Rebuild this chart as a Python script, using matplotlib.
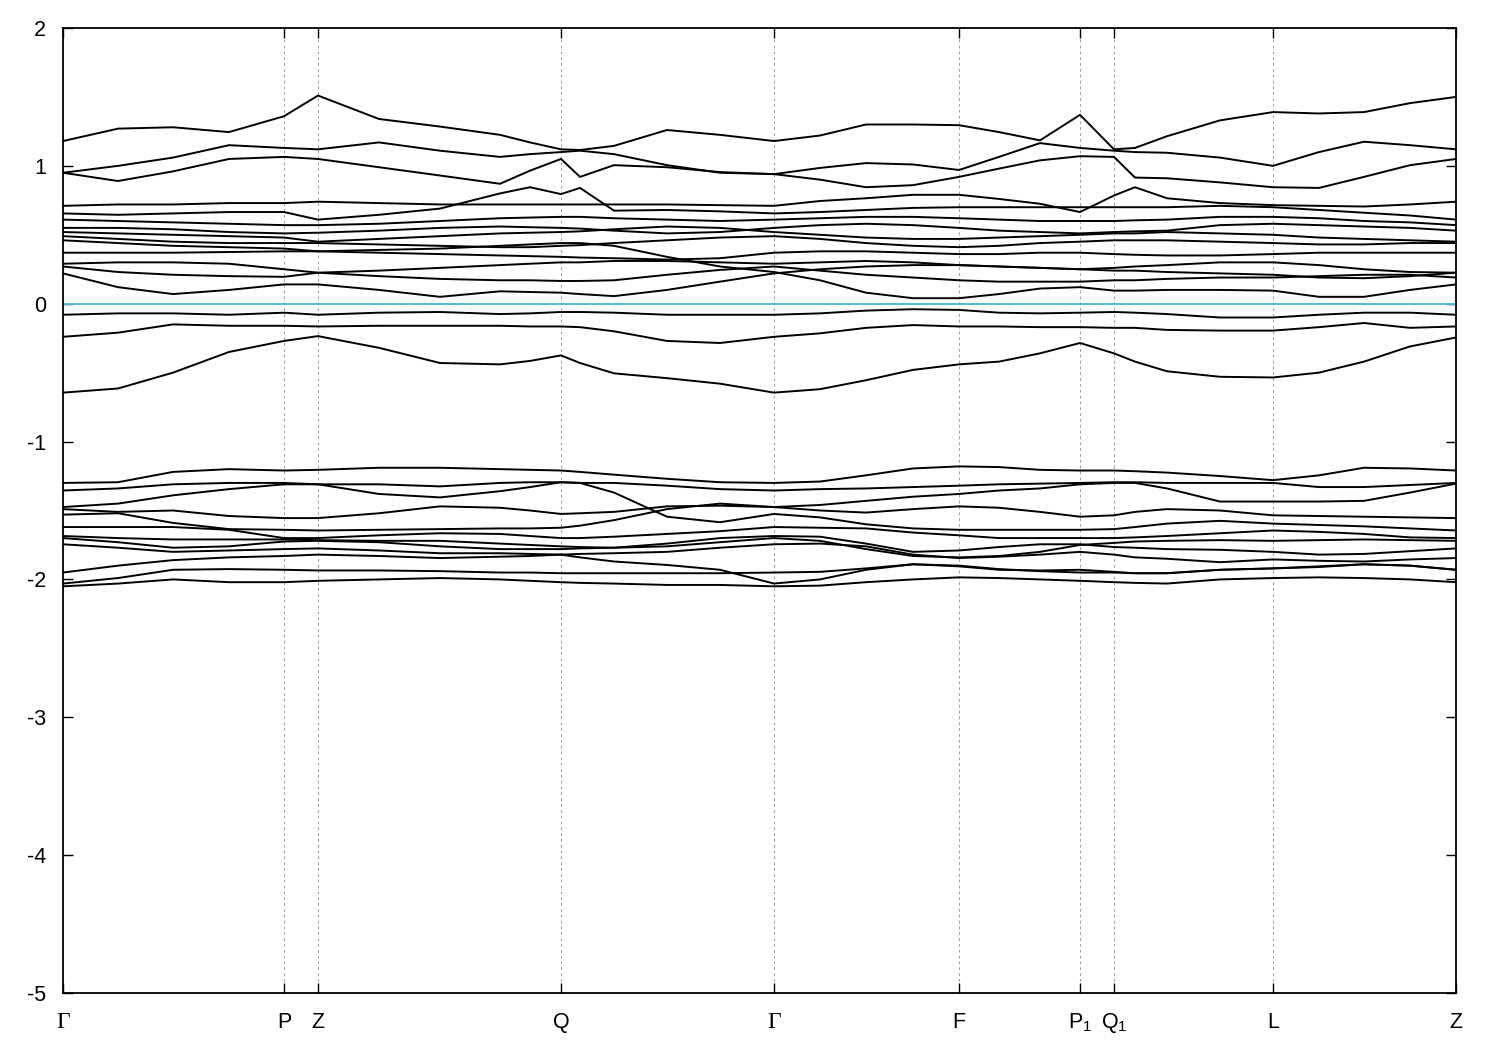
import matplotlib
matplotlib.use("Agg")
import matplotlib.pyplot as plt
from matplotlib.transforms import blended_transform_factory

plt.rcParams['font.family'] = ['Liberation Sans', 'DejaVu Sans']
plt.rcParams['axes.unicode_minus'] = False

# high-symmetry points along the path (k-path distance, arbitrary units)
kpt_pos = [0.0, 0.221, 0.255, 0.498, 0.711, 0.896, 1.017, 1.051, 1.210, 1.393]
kpt_labels = ["Γ", "P", "Z", "Q", "Γ", "F", r"$\mathregular{P_1}$", r"$\mathregular{Q_1}$", "L", "Z"]

# k samples where the band energies were read
k = [0.0, 0.055, 0.110, 0.166, 0.221, 0.255, 0.316, 0.377, 0.437, 0.467,
     0.498, 0.517, 0.551, 0.604, 0.657, 0.711, 0.757, 0.803, 0.850, 0.896,
     0.936, 0.977, 1.017, 1.051, 1.072, 1.104, 1.157, 1.210, 1.256, 1.301,
     1.347, 1.393]

# upper bands (eV)
b1 = [1.18, 1.27, 1.28, 1.245, 1.36, 1.51, 1.34, 1.285, 1.225, 1.17, 1.12, 1.115, 1.145, 1.26, 1.225, 1.18,
      1.22, 1.30, 1.30, 1.295, 1.245, 1.185, 1.37, 1.12, 1.13, 1.215, 1.33, 1.39, 1.38, 1.39, 1.455, 1.50]
b2 = [0.95, 1.00, 1.06, 1.15, 1.13, 1.12, 1.17, 1.11, 1.065, 1.085, 1.10, 1.11, 1.085, 1.005, 0.95, 0.94,
      0.985, 1.02, 1.01, 0.97, 1.065, 1.165, 1.13, 1.11, 1.10, 1.095, 1.06, 1.00, 1.10, 1.175, 1.15, 1.12]
b3 = [0.95, 0.89, 0.96, 1.05, 1.065, 1.05, 0.99, 0.93, 0.87, 0.965, 1.05, 0.92, 1.005, 0.99, 0.955, 0.94,
      0.90, 0.845, 0.86, 0.92, 0.98, 1.04, 1.07, 1.065, 0.915, 0.91, 0.88, 0.845, 0.84, 0.92, 1.005, 1.05]

m1 = [0.71, 0.72, 0.72, 0.73, 0.73, 0.74, 0.73, 0.72, 0.72, 0.72, 0.72, 0.72, 0.72, 0.72, 0.715, 0.71,
      0.745, 0.765, 0.79, 0.79, 0.76, 0.725, 0.665, 0.785, 0.845, 0.765, 0.73, 0.715, 0.71, 0.705, 0.72, 0.74]
m2 = [0.655, 0.645, 0.655, 0.665, 0.665, 0.61, 0.645, 0.69, 0.80, 0.845, 0.795, 0.84, 0.675, 0.68, 0.67, 0.655,
      0.665, 0.68, 0.695, 0.70, 0.70, 0.70, 0.70, 0.70, 0.70, 0.70, 0.71, 0.70, 0.68, 0.66, 0.64, 0.61]
m3 = [0.61, 0.60, 0.59, 0.58, 0.57, 0.57, 0.58, 0.60, 0.62, 0.625, 0.63, 0.63, 0.62, 0.61, 0.60, 0.61,
      0.62, 0.63, 0.63, 0.62, 0.61, 0.60, 0.60, 0.60, 0.605, 0.61, 0.63, 0.63, 0.62, 0.60, 0.59, 0.57]
m4 = [0.55, 0.55, 0.54, 0.52, 0.51, 0.515, 0.53, 0.55, 0.56, 0.555, 0.55, 0.545, 0.53, 0.51, 0.52, 0.55,
      0.57, 0.58, 0.57, 0.55, 0.53, 0.52, 0.51, 0.52, 0.525, 0.53, 0.57, 0.58, 0.57, 0.56, 0.55, 0.53]
m5 = [0.52, 0.51, 0.50, 0.49, 0.48, 0.45, 0.47, 0.49, 0.51, 0.515, 0.52, 0.525, 0.54, 0.56, 0.55, 0.52,
      0.50, 0.48, 0.47, 0.47, 0.48, 0.49, 0.50, 0.51, 0.51, 0.52, 0.51, 0.50, 0.48, 0.47, 0.46, 0.45]
m6 = [0.49, 0.47, 0.45, 0.44, 0.44, 0.44, 0.43, 0.42, 0.41, 0.41, 0.42, 0.425, 0.44, 0.46, 0.48, 0.49,
      0.47, 0.44, 0.42, 0.41, 0.42, 0.44, 0.45, 0.46, 0.46, 0.46, 0.45, 0.44, 0.43, 0.43, 0.44, 0.44]
m7 = [0.46, 0.44, 0.42, 0.41, 0.40, 0.38, 0.39, 0.40, 0.42, 0.43, 0.44, 0.44, 0.42, 0.34, 0.27, 0.23,
      0.17, 0.08, 0.04, 0.04, 0.07, 0.11, 0.12, 0.095, 0.095, 0.10, 0.10, 0.095, 0.05, 0.05, 0.10, 0.14]
m8 = [0.37, 0.37, 0.37, 0.375, 0.38, 0.38, 0.37, 0.36, 0.35, 0.345, 0.34, 0.335, 0.33, 0.32, 0.33, 0.37,
      0.38, 0.38, 0.37, 0.36, 0.36, 0.37, 0.37, 0.36, 0.355, 0.35, 0.35, 0.36, 0.37, 0.37, 0.37, 0.37]
m9 = [0.29, 0.30, 0.30, 0.29, 0.25, 0.225, 0.24, 0.26, 0.28, 0.29, 0.30, 0.30, 0.31, 0.31, 0.30, 0.29,
      0.30, 0.31, 0.30, 0.28, 0.27, 0.26, 0.25, 0.26, 0.27, 0.28, 0.30, 0.30, 0.28, 0.25, 0.23, 0.225]
m10 = [0.27, 0.23, 0.21, 0.20, 0.195, 0.225, 0.20, 0.18, 0.17, 0.17, 0.165, 0.165, 0.17, 0.21, 0.245, 0.27,
       0.24, 0.21, 0.19, 0.17, 0.16, 0.16, 0.16, 0.17, 0.17, 0.18, 0.19, 0.19, 0.20, 0.21, 0.21, 0.19]
m11 = [0.22, 0.12, 0.07, 0.10, 0.14, 0.14, 0.10, 0.05, 0.09, 0.085, 0.08, 0.07, 0.055, 0.10, 0.16, 0.22,
       0.25, 0.27, 0.28, 0.28, 0.27, 0.26, 0.25, 0.24, 0.24, 0.23, 0.22, 0.21, 0.19, 0.185, 0.20, 0.225]

n1 = [-0.08, -0.07, -0.07, -0.08, -0.065, -0.08, -0.065, -0.06, -0.075, -0.07, -0.06, -0.06, -0.065, -0.08, -0.08, -0.08,
      -0.07, -0.05, -0.04, -0.045, -0.065, -0.07, -0.065, -0.06, -0.065, -0.075, -0.10, -0.10, -0.08, -0.065, -0.065, -0.08]
n2 = [-0.24, -0.21, -0.15, -0.16, -0.16, -0.165, -0.16, -0.16, -0.16, -0.165, -0.165, -0.17, -0.20, -0.27, -0.285, -0.24,
      -0.215, -0.175, -0.155, -0.165, -0.165, -0.17, -0.17, -0.175, -0.175, -0.19, -0.195, -0.195, -0.17, -0.14, -0.175, -0.165]
n3 = [-0.645, -0.615, -0.50, -0.35, -0.27, -0.235, -0.32, -0.43, -0.44, -0.415, -0.375, -0.43, -0.505, -0.54, -0.58, -0.645,
      -0.62, -0.555, -0.48, -0.44, -0.42, -0.36, -0.285, -0.36, -0.42, -0.49, -0.53, -0.535, -0.50, -0.42, -0.31, -0.245]

# lower bands
p1 = [-1.30, -1.295, -1.22, -1.20, -1.21, -1.205, -1.19, -1.19, -1.20, -1.205, -1.21, -1.22, -1.24, -1.27, -1.295, -1.30,
      -1.29, -1.245, -1.195, -1.18, -1.185, -1.205, -1.21, -1.21, -1.215, -1.225, -1.25, -1.28, -1.245, -1.19, -1.195, -1.21]
p2 = [-1.355, -1.34, -1.31, -1.30, -1.30, -1.31, -1.31, -1.325, -1.30, -1.295, -1.295, -1.30, -1.30, -1.32, -1.345, -1.355,
      -1.345, -1.34, -1.33, -1.32, -1.31, -1.305, -1.30, -1.295, -1.295, -1.30, -1.30, -1.30, -1.33, -1.33, -1.315, -1.30]
p3 = [-1.475, -1.45, -1.39, -1.345, -1.31, -1.31, -1.38, -1.405, -1.36, -1.33, -1.295, -1.30, -1.37, -1.545, -1.585, -1.525,
      -1.55, -1.60, -1.63, -1.64, -1.64, -1.64, -1.64, -1.635, -1.62, -1.595, -1.575, -1.595, -1.605, -1.615, -1.63, -1.645]
p4 = [-1.49, -1.51, -1.50, -1.54, -1.555, -1.555, -1.52, -1.47, -1.48, -1.50, -1.525, -1.52, -1.51, -1.47, -1.465, -1.475,
      -1.46, -1.43, -1.40, -1.38, -1.355, -1.34, -1.31, -1.30, -1.30, -1.34, -1.435, -1.435, -1.435, -1.43, -1.37, -1.305]
p5 = [-1.53, -1.52, -1.59, -1.635, -1.64, -1.645, -1.64, -1.635, -1.63, -1.63, -1.625, -1.61, -1.57, -1.49, -1.45, -1.475,
      -1.50, -1.515, -1.49, -1.47, -1.48, -1.51, -1.545, -1.535, -1.51, -1.49, -1.50, -1.535, -1.54, -1.545, -1.55, -1.555]
p6 = [-1.62, -1.62, -1.62, -1.64, -1.70, -1.70, -1.68, -1.665, -1.67, -1.685, -1.70, -1.70, -1.69, -1.67, -1.65, -1.62,
      -1.625, -1.63, -1.66, -1.68, -1.70, -1.70, -1.70, -1.70, -1.695, -1.685, -1.665, -1.645, -1.655, -1.67, -1.695, -1.70]
p7 = [-1.685, -1.70, -1.71, -1.71, -1.71, -1.715, -1.72, -1.72, -1.74, -1.75, -1.76, -1.765, -1.77, -1.74, -1.70, -1.685,
      -1.69, -1.74, -1.80, -1.79, -1.765, -1.745, -1.745, -1.765, -1.77, -1.78, -1.785, -1.80, -1.82, -1.815, -1.795, -1.775]
p8 = [-1.70, -1.73, -1.77, -1.76, -1.725, -1.72, -1.73, -1.76, -1.78, -1.78, -1.78, -1.775, -1.77, -1.76, -1.73, -1.70,
      -1.72, -1.78, -1.83, -1.84, -1.83, -1.80, -1.75, -1.735, -1.725, -1.72, -1.715, -1.72, -1.715, -1.71, -1.715, -1.72]
p9 = [-1.745, -1.77, -1.80, -1.79, -1.78, -1.775, -1.79, -1.81, -1.81, -1.815, -1.82, -1.815, -1.81, -1.80, -1.77, -1.745,
      -1.74, -1.76, -1.82, -1.845, -1.835, -1.82, -1.80, -1.82, -1.84, -1.85, -1.875, -1.855, -1.865, -1.87, -1.855, -1.845]
p10 = [-1.95, -1.90, -1.86, -1.84, -1.83, -1.82, -1.83, -1.845, -1.835, -1.83, -1.82, -1.84, -1.87, -1.895, -1.93, -2.03,
       -2.00, -1.93, -1.89, -1.90, -1.925, -1.94, -1.95, -1.95, -1.955, -1.955, -1.93, -1.92, -1.91, -1.89, -1.90, -1.93]
p11 = [-2.03, -1.99, -1.93, -1.925, -1.93, -1.935, -1.935, -1.94, -1.95, -1.95, -1.955, -1.955, -1.955, -1.955, -1.955, -1.95,
       -1.945, -1.92, -1.89, -1.905, -1.93, -1.935, -1.93, -1.945, -1.955, -1.955, -1.93, -1.92, -1.905, -1.89, -1.90, -1.93]
p12 = [-2.05, -2.03, -2.00, -2.02, -2.02, -2.01, -2.00, -1.99, -2.00, -2.01, -2.02, -2.025, -2.03, -2.04, -2.04, -2.05,
       -2.045, -2.02, -2.00, -1.985, -1.99, -2.00, -2.01, -2.02, -2.025, -2.03, -2.00, -1.99, -1.985, -1.99, -2.00, -2.02]

bands = [b1, b2, b3, m1, m2, m3, m4, m5, m6, m7, m8, m9, m10, m11, n1, n2, n3,
         p1, p2, p3, p4, p5, p6, p7, p8, p9, p10, p11, p12]

fig = plt.figure(figsize=(15, 10.5), dpi=100)
ax = fig.add_axes([63 / 1500, 57 / 1050, 1393 / 1500, 965 / 1050])

for x in kpt_pos[1:-1]:
    ax.axvline(x, color='#a0a0a0', lw=0.7, ls=(0, (3, 3)), zorder=1)
ax.axhline(0, color='#56b4e9', lw=1.4, zorder=2)

for band in bands:
    ax.plot(k, band, color='black', lw=1.4, zorder=3, solid_joinstyle='round')

ax.set_xlim(kpt_pos[0], kpt_pos[-1])
ax.set_ylim(-5, 2)
ax.set_yticks(range(-5, 3))
ax.set_xticks(kpt_pos)
ax.set_xticklabels([])

# k-point labels placed on a common baseline below the axis
trans = blended_transform_factory(ax.transData, ax.transAxes)
for x, lab in zip(kpt_pos, kpt_labels):
    if lab == "Γ":
        ax.text(x, -0.0363, lab, transform=trans, ha='center', va='baseline',
                fontsize=17, family=['Liberation Serif', 'DejaVu Serif'])
    else:
        ax.text(x, -0.0363, lab, transform=trans, ha='center', va='baseline', fontsize=15.5)

ax.tick_params(direction='in', length=7, width=1, top=True, right=True, labelsize=15.5)
ax.tick_params(axis='y', pad=12)
for sp in ax.spines.values():
    sp.set_linewidth(1.3)

fig.savefig("out.png", dpi=100)
